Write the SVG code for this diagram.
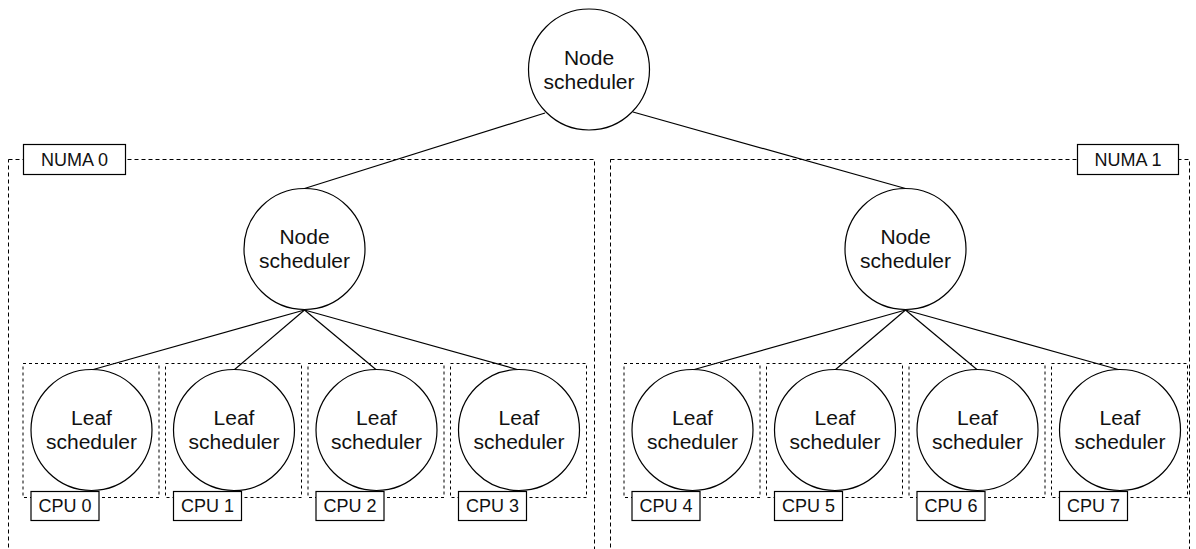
<svg xmlns="http://www.w3.org/2000/svg" width="1196" height="549" viewBox="0 0 1196 549">
  <style>
    .bg { fill: #ffffff; }
    .numa { fill: none; stroke: #000; stroke-width: 1; stroke-dasharray: 4 3; }
    .cpuzone { fill: none; stroke: #000; stroke-width: 1; stroke-dasharray: 3 3; }
    .sched { fill: #ffffff; stroke: #000; stroke-width: 1.2; }
    .tag { fill: #ffffff; stroke: #000; stroke-width: 1.2; }
    .edge { fill: none; stroke: #000; stroke-width: 1.2; }
    .lbl { font-family: "Liberation Sans", Arial, sans-serif; font-size: 21px; fill: #111; text-anchor: middle; }
    .tagtxt { font-family: "Liberation Sans", Arial, sans-serif; font-size: 18px; fill: #111; text-anchor: middle; }
  </style>

  <rect class="bg" x="0" y="0" width="1196" height="549"/>

  <!-- NUMA domains -->
  <g id="numa0">
    <rect class="numa" x="8.5" y="159.5" width="586" height="420"/>
    <rect class="tag" x="23.5" y="144.5" width="102" height="30"/>
    <text class="tagtxt" x="74.5" y="166">NUMA 0</text>
  </g>
  <g id="numa1">
    <rect class="numa" x="610.5" y="159.5" width="579" height="420"/>
    <rect class="tag" x="1077.5" y="144.5" width="101" height="30"/>
    <text class="tagtxt" x="1128" y="166">NUMA 1</text>
  </g>

  <!-- tree connectors -->
  <g id="connectors">
    <line class="edge" x1="545" y1="113" x2="304.5" y2="188.5"/>
    <line class="edge" x1="633" y1="112" x2="905.5" y2="188.5"/>
    <line class="edge" x1="304.5" y1="310" x2="91.5" y2="370"/>
    <line class="edge" x1="304.5" y1="310" x2="234" y2="370"/>
    <line class="edge" x1="304.5" y1="310" x2="376.5" y2="370"/>
    <line class="edge" x1="304.5" y1="310" x2="519" y2="370"/>
    <line class="edge" x1="905.5" y1="310" x2="692.5" y2="370"/>
    <line class="edge" x1="905.5" y1="310" x2="835" y2="370"/>
    <line class="edge" x1="905.5" y1="310" x2="977.5" y2="370"/>
    <line class="edge" x1="905.5" y1="310" x2="1120" y2="370"/>
  </g>

  <!-- root scheduler -->
  <g id="root">
    <circle class="sched" cx="589" cy="69.5" r="60.5"/>
    <text class="lbl" x="589" y="65">Node</text>
    <text class="lbl" x="589" y="89">scheduler</text>
  </g>

  <!-- per-NUMA node schedulers -->
  <g id="node0">
    <circle class="sched" cx="304.5" cy="249" r="60.5"/>
    <text class="lbl" x="304.5" y="244">Node</text>
    <text class="lbl" x="304.5" y="268">scheduler</text>
  </g>
  <g id="node1">
    <circle class="sched" cx="905.5" cy="249" r="60.5"/>
    <text class="lbl" x="905.5" y="244">Node</text>
    <text class="lbl" x="905.5" y="268">scheduler</text>
  </g>

  <!-- leaf schedulers, one per CPU -->
  <g id="cpu0" transform="translate(91.5 0)">
    <rect class="cpuzone" x="-68.5" y="363.5" width="136" height="134"/>
    <circle class="sched" cx="0" cy="430" r="60.5"/>
    <text class="lbl" x="0" y="425">Leaf</text>
    <text class="lbl" x="0" y="449">scheduler</text>
    <rect class="tag" x="-60.5" y="491.5" width="68" height="29"/>
    <text class="tagtxt" x="-26.5" y="512">CPU 0</text>
  </g>
  <g id="cpu1" transform="translate(234 0)">
    <rect class="cpuzone" x="-68.5" y="363.5" width="136" height="134"/>
    <circle class="sched" cx="0" cy="430" r="60.5"/>
    <text class="lbl" x="0" y="425">Leaf</text>
    <text class="lbl" x="0" y="449">scheduler</text>
    <rect class="tag" x="-60.5" y="491.5" width="68" height="29"/>
    <text class="tagtxt" x="-26.5" y="512">CPU 1</text>
  </g>
  <g id="cpu2" transform="translate(376.5 0)">
    <rect class="cpuzone" x="-68.5" y="363.5" width="136" height="134"/>
    <circle class="sched" cx="0" cy="430" r="60.5"/>
    <text class="lbl" x="0" y="425">Leaf</text>
    <text class="lbl" x="0" y="449">scheduler</text>
    <rect class="tag" x="-60.5" y="491.5" width="68" height="29"/>
    <text class="tagtxt" x="-26.5" y="512">CPU 2</text>
  </g>
  <g id="cpu3" transform="translate(519 0)">
    <rect class="cpuzone" x="-68.5" y="363.5" width="136" height="134"/>
    <circle class="sched" cx="0" cy="430" r="60.5"/>
    <text class="lbl" x="0" y="425">Leaf</text>
    <text class="lbl" x="0" y="449">scheduler</text>
    <rect class="tag" x="-60.5" y="491.5" width="68" height="29"/>
    <text class="tagtxt" x="-26.5" y="512">CPU 3</text>
  </g>
  <g id="cpu4" transform="translate(692.5 0)">
    <rect class="cpuzone" x="-68.5" y="363.5" width="136" height="134"/>
    <circle class="sched" cx="0" cy="430" r="60.5"/>
    <text class="lbl" x="0" y="425">Leaf</text>
    <text class="lbl" x="0" y="449">scheduler</text>
    <rect class="tag" x="-60.5" y="491.5" width="68" height="29"/>
    <text class="tagtxt" x="-26.5" y="512">CPU 4</text>
  </g>
  <g id="cpu5" transform="translate(835 0)">
    <rect class="cpuzone" x="-68.5" y="363.5" width="136" height="134"/>
    <circle class="sched" cx="0" cy="430" r="60.5"/>
    <text class="lbl" x="0" y="425">Leaf</text>
    <text class="lbl" x="0" y="449">scheduler</text>
    <rect class="tag" x="-60.5" y="491.5" width="68" height="29"/>
    <text class="tagtxt" x="-26.5" y="512">CPU 5</text>
  </g>
  <g id="cpu6" transform="translate(977.5 0)">
    <rect class="cpuzone" x="-68.5" y="363.5" width="136" height="134"/>
    <circle class="sched" cx="0" cy="430" r="60.5"/>
    <text class="lbl" x="0" y="425">Leaf</text>
    <text class="lbl" x="0" y="449">scheduler</text>
    <rect class="tag" x="-60.5" y="491.5" width="68" height="29"/>
    <text class="tagtxt" x="-26.5" y="512">CPU 6</text>
  </g>
  <g id="cpu7" transform="translate(1120 0)">
    <rect class="cpuzone" x="-68.5" y="363.5" width="136" height="134"/>
    <circle class="sched" cx="0" cy="430" r="60.5"/>
    <text class="lbl" x="0" y="425">Leaf</text>
    <text class="lbl" x="0" y="449">scheduler</text>
    <rect class="tag" x="-60.5" y="491.5" width="68" height="29"/>
    <text class="tagtxt" x="-26.5" y="512">CPU 7</text>
  </g>
</svg>
